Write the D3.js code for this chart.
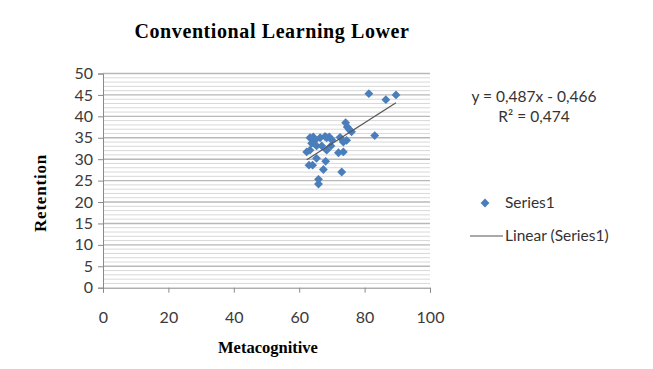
<!DOCTYPE html>
<html><head><meta charset="utf-8">
<script src="https://cdn.jsdelivr.net/npm/d3@7"></script>
<style>body{margin:0;background:#fff}</style>
</head><body>
<svg id="c" width="653" height="369"></svg>
<script>
const metacognitive = [81.3,86.5,89.6,83.1,74.2,74.7,75.3,76.0,73.0,65.9,65.9,67.4,68.1,63.0,64.1,65.3,62.3,63.3,64.8,66.4,67.9,69.2,63.8,65.3,66.9,63.3,69.7,72.0,73.5,72.5,73.5,68.4,64.3,68.4,74.5,70.0];
const retention     = [45.3,43.9,45.0,35.5,38.5,37.5,36.9,36.4,27.0,25.3,24.2,27.6,29.5,28.6,28.6,30.2,31.7,35.0,34.4,35.0,35.3,35.2,33.7,33.1,33.1,32.1,33.1,31.5,31.7,35.1,34.0,32.1,35.2,35.0,34.4,34.5];
const trendSlope = 0.487, trendIntercept = -0.466;
const xTicks = [0,20,40,60,80,100];
const yTicks = [0,5,10,15,20,25,30,35,40,45,50];
const titleText = "Conventional Learning Lower";
const xTitle = "Metacognitive", yTitle = "Retention";
const eqText = "y = 0,487x - 0,466", r2Text = "R² = 0,474";
const seriesName = "Series1", trendName = "Linear (Series1)";

const svg = d3.select("#c");
const L=103, R=430, T=73.5, B=287.7;
const x = d3.scaleLinear().domain([0,100]).range([L,R]);
const y = d3.scaleLinear().domain([0,50]).range([B,T]);

// minor gridlines
svg.append("g").selectAll("line").data(d3.range(0,51,1).filter(v=>v%5))
  .join("line").attr("x1",L).attr("x2",R).attr("y1",d=>y(d)).attr("y2",d=>y(d))
  .attr("stroke","#d8d8d8").attr("stroke-width",1);
// major gridlines
svg.append("g").selectAll("line").data(yTicks.slice(1))
  .join("line").attr("x1",L).attr("x2",R).attr("y1",d=>y(d)).attr("y2",d=>y(d))
  .attr("stroke","#b8b8b8").attr("stroke-width",1.4);

const fontT = "Lato, 'Open Sans', sans-serif";
// y axis
const ya = svg.append("g").attr("transform",`translate(${L},0)`)
  .call(d3.axisLeft(y).tickValues(yTicks).tickSize(5).tickPadding(5));
ya.select(".domain").attr("stroke","#8a8a8a");
ya.selectAll(".tick line").attr("stroke","#8a8a8a");
ya.selectAll("text").attr("font-family",fontT).attr("font-size",16).attr("fill","#3a3a3a");
// x axis
const xa = svg.append("g").attr("transform",`translate(0,${B})`)
  .call(d3.axisBottom(x).tickValues(xTicks).tickSize(5).tickPadding(19));
xa.select(".domain").attr("stroke","#8a8a8a");
xa.selectAll(".tick line").attr("stroke","#8a8a8a");
xa.selectAll("text").attr("font-family",fontT).attr("font-size",16).attr("fill","#3a3a3a");

// points
const diamond = d3.symbol().type(d3.symbolDiamond2).size(50);
const pts = metacognitive.map((m,i)=>[m,retention[i]]);
svg.append("g").selectAll("path").data(pts).join("path")
  .attr("d",diamond).attr("transform",d=>`translate(${x(d[0])},${y(d[1])})`)
  .attr("fill","#4a7ebb");

// trendline
const ext = d3.extent(metacognitive);
svg.append("line")
  .attr("x1",x(ext[0])).attr("y1",y(trendSlope*ext[0]+trendIntercept))
  .attr("x2",x(ext[1])).attr("y2",y(trendSlope*ext[1]+trendIntercept))
  .attr("stroke","#555").attr("stroke-width",1.2);

// titles
const serif = "'Liberation Serif','DejaVu Serif',serif";
svg.append("text").attr("x",272).attr("y",38).attr("text-anchor","middle")
  .attr("font-family",serif).attr("font-weight","bold").attr("font-size",20)
  .attr("letter-spacing",0.6).text(titleText);
svg.append("text").attr("x",268).attr("y",353).attr("text-anchor","middle")
  .attr("font-family",serif).attr("font-weight","bold").attr("font-size",16.5).text(xTitle);
svg.append("text").attr("transform","translate(46,193) rotate(-90)").attr("text-anchor","middle")
  .attr("font-family",serif).attr("font-weight","bold").attr("font-size",17)
  .attr("letter-spacing",0.8).text(yTitle);

// equation
svg.append("text").attr("x",534).attr("y",102).attr("text-anchor","middle")
  .attr("font-family",fontT).attr("font-size",15.5).attr("fill","#333").text(eqText);
svg.append("text").attr("x",534).attr("y",122).attr("text-anchor","middle")
  .attr("font-family",fontT).attr("font-size",15.5).attr("fill","#333").text(r2Text);

// legend
svg.append("path").attr("d",diamond).attr("transform","translate(485,203)").attr("fill","#4a7ebb");
svg.append("text").attr("x",505).attr("y",208).attr("font-family",fontT).attr("font-size",15.5).attr("fill","#333").text(seriesName);
svg.append("line").attr("x1",470).attr("x2",503).attr("y1",236).attr("y2",236).attr("stroke","#555").attr("stroke-width",1.2);
svg.append("text").attr("x",505).attr("y",241).attr("font-family",fontT).attr("font-size",15.5).attr("fill","#333").text(trendName);
</script>
</body></html>
